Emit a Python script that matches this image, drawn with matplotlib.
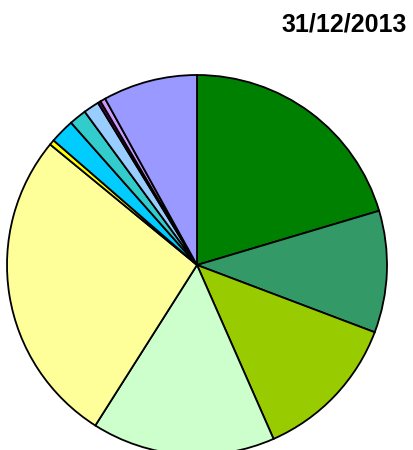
import matplotlib.pyplot as plt

# slice sizes (degrees), clockwise from 12 o'clock
values = [73.4, 37.3, 45.5, 56.1, 97.0, 1.6, 7.5, 5.3, 4.8, 0.9, 1.6, 28.9]
colors = ['#008000', '#339966', '#99CC00', '#CCFFCC', '#FFFF99', '#FFFF00',
          '#00CCFF', '#33CCCC', '#99CCFF', '#660066', '#CC99FF', '#9999FF']
title = '31/12/2013'

fig = plt.figure(figsize=(4.13, 4.5), dpi=100)
ax = fig.add_axes([0, 0, 1, 1])
ax.set_xlim(0, 413)
ax.set_ylim(0, 450)
ax.set_aspect('equal')
ax.axis('off')

ax.pie(values, colors=colors, startangle=90, counterclock=False,
       center=(197, 185), radius=190,
       wedgeprops=dict(edgecolor='black', linewidth=1.3))
ax.set_xlim(0, 413)
ax.set_ylim(0, 450)

fig.text(407 / 413, 1 - 25 / 450, title, ha='right', va='center',
         fontsize=18, fontweight='bold', family=['Liberation Sans', 'DejaVu Sans'])

fig.savefig('out.png', dpi=100)
